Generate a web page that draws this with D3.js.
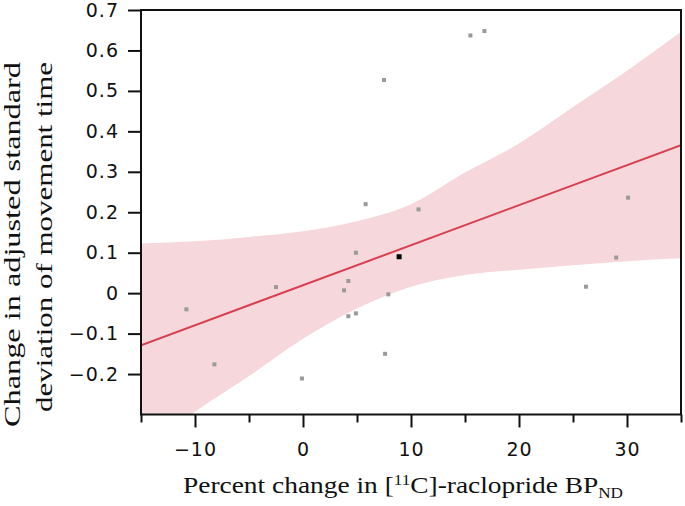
<!DOCTYPE html>
<html>
<head>
<meta charset="utf-8">
<script src="https://cdn.jsdelivr.net/npm/d3@7"></script>
<style>
  body { margin: 0; background: #fff; }
  svg { display: block; }
</style>
</head>
<body>
<div id="chart"></div>
<script>
// Scatter points (percent change in BPnd, change in adjusted SD)
const pointX = [-10.8, -8.2, -2.5, -0.1, 3.8, 4.2, 4.2, 4.9, 4.9, 5.8, 7.5, 7.6, 7.9, 10.7, 15.5, 16.8, 26.2, 29.0, 30.1];
const pointY = [-0.04, -0.176, 0.015, -0.211, 0.007, 0.03, -0.057, -0.05, 0.10, 0.22, 0.527, -0.15, -0.003, 0.207, 0.637, 0.648, 0.016, 0.088, 0.236];
// highlighted point
const markX = [8.9];
const markY = [0.09];

// Fitted line end points
const fitX = [-15, 35];
const fitY = [-0.129, 0.366];

const bandX = [-15, -10, -5, 0, 5, 10, 15, 20, 25, 30, 35];
const bandUpper = [0.123, 0.128, 0.139, 0.153, 0.178, 0.22, 0.298, 0.37, 0.46, 0.55, 0.646];
const bandLower = [-0.385, -0.293, -0.205, -0.113, -0.038, 0.016, 0.045, 0.058, 0.069, 0.079, 0.086];

// Axis ticks
const xTicks = [-10, 0, 10, 20, 30];
const xMinorTicks = [-15, -5, 5, 15, 25, 35];
const yTicks = [-0.2, -0.1, 0, 0.1, 0.2, 0.3, 0.4, 0.5, 0.6, 0.7];

const width = 685, height = 506;
const plot = { left: 141, right: 681, top: 10, bottom: 414.5 };

const colors = {
    band: "#f6d7dc",
    line: "#d8404f",
    point: "#9a9a9a",
    mark: "#000"
};

const svg = d3.select("#chart").append("svg")
    .attr("width", width)
    .attr("height", height);

const x = d3.scaleLinear().domain([-15, 35]).range([plot.left, plot.right]);
const y = d3.scaleLinear().domain([-0.3, 0.7]).range([plot.bottom, plot.top]);

svg.append("defs").append("clipPath")
    .attr("id", "plot-clip")
    .append("rect")
    .attr("x", plot.left)
    .attr("y", plot.top)
    .attr("width", plot.right - plot.left)
    .attr("height", plot.bottom - plot.top);

const g = svg.append("g").attr("clip-path", "url(#plot-clip)");

// band
const bandData = bandX.map((d, i) => ({ x: d, lo: bandLower[i], hi: bandUpper[i] }));
g.append("path")
    .datum(bandData)
    .attr("fill", colors.band)
    .attr("d", d3.area()
        .x(d => x(d.x))
        .y0(d => y(d.lo))
        .y1(d => y(d.hi))
        .curve(d3.curveMonotoneX));

// fit line
g.append("path")
    .datum(fitX.map((d, i) => [d, fitY[i]]))
    .attr("fill", "none")
    .attr("stroke", colors.line)
    .attr("stroke-width", 2)
    .attr("d", d3.line().x(d => x(d[0])).y(d => y(d[1])));

// points
g.selectAll(".pt")
    .data(pointX.map((d, i) => [d, pointY[i]]))
    .enter()
    .append("rect")
    .attr("class", "pt")
    .attr("x", d => x(d[0]) - 2)
    .attr("y", d => y(d[1]) - 2)
    .attr("width", 4)
    .attr("height", 4)
    .attr("fill", colors.point);

g.selectAll(".mark")
    .data(markX.map((d, i) => [d, markY[i]]))
    .enter()
    .append("rect")
    .attr("class", "mark")
    .attr("x", d => x(d[0]) - 2.5)
    .attr("y", d => y(d[1]) - 2.5)
    .attr("width", 5)
    .attr("height", 5)
    .attr("fill", colors.mark);

// frame
svg.append("rect")
    .attr("x", plot.left)
    .attr("y", plot.top)
    .attr("width", plot.right - plot.left)
    .attr("height", plot.bottom - plot.top)
    .attr("fill", "none")
    .attr("stroke", "#111")
    .attr("stroke-width", 2);

// minus sign instead of hyphen
const minus = s => String(s).replace("-", "\u2212");

// x axis
svg.append("g")
    .attr("transform", `translate(0,${plot.bottom})`)
    .call(d3.axisBottom(x).tickValues(xTicks).tickSize(13).tickPadding(15).tickFormat(d => minus(d)));
svg.append("g")
    .attr("transform", `translate(0,${plot.bottom})`)
    .call(d3.axisBottom(x).tickValues(xMinorTicks).tickSize(8).tickFormat(""));

// y axis
svg.append("g")
    .attr("transform", `translate(${plot.left},0)`)
    .call(d3.axisLeft(y).tickValues(yTicks).tickSize(13).tickPadding(9)
        .tickFormat(d => Math.abs(d) < 1e-9 ? "0" : minus(d3.format(".1f")(d))));

svg.selectAll(".domain").remove();
svg.selectAll(".tick line").attr("stroke", "#111").attr("stroke-width", 2);
svg.selectAll(".tick text")
    .attr("fill", "#111")
    .style("font-family", "'DejaVu Sans', Verdana, sans-serif")
    .style("font-size", "19px")
    .style("letter-spacing", "1px");

// axis titles
const titleFont = "'Liberation Serif', 'Times New Roman', serif";
const xt = svg.append("text")
    .attr("x", 183)
    .attr("y", 493)
    .attr("textLength", 440)
    .attr("lengthAdjust", "spacingAndGlyphs")
    .style("font-family", titleFont)
    .style("font-size", "24px")
    .attr("fill", "#111");
xt.append("tspan").text("Percent change in [");
xt.append("tspan").attr("dy", -8).style("font-size", "15px").text("11");
xt.append("tspan").attr("dy", 8).text("C]-raclopride BP");
xt.append("tspan").attr("dy", 5).style("font-size", "15px").text("ND");

const yt = svg.append("g")
    .attr("transform", "translate(0,62) rotate(-90)")
    .style("font-family", titleFont)
    .style("font-size", "24px")
    .attr("fill", "#111");
yt.append("text").attr("x", 0).attr("y", 20).attr("text-anchor", "end")
    .attr("textLength", 365).attr("lengthAdjust", "spacingAndGlyphs")
    .text("Change in adjusted standard");
yt.append("text").attr("x", 0).attr("y", 52).attr("text-anchor", "end")
    .attr("textLength", 350).attr("lengthAdjust", "spacingAndGlyphs")
    .text("deviation of movement time");
</script>
</body>
</html>
